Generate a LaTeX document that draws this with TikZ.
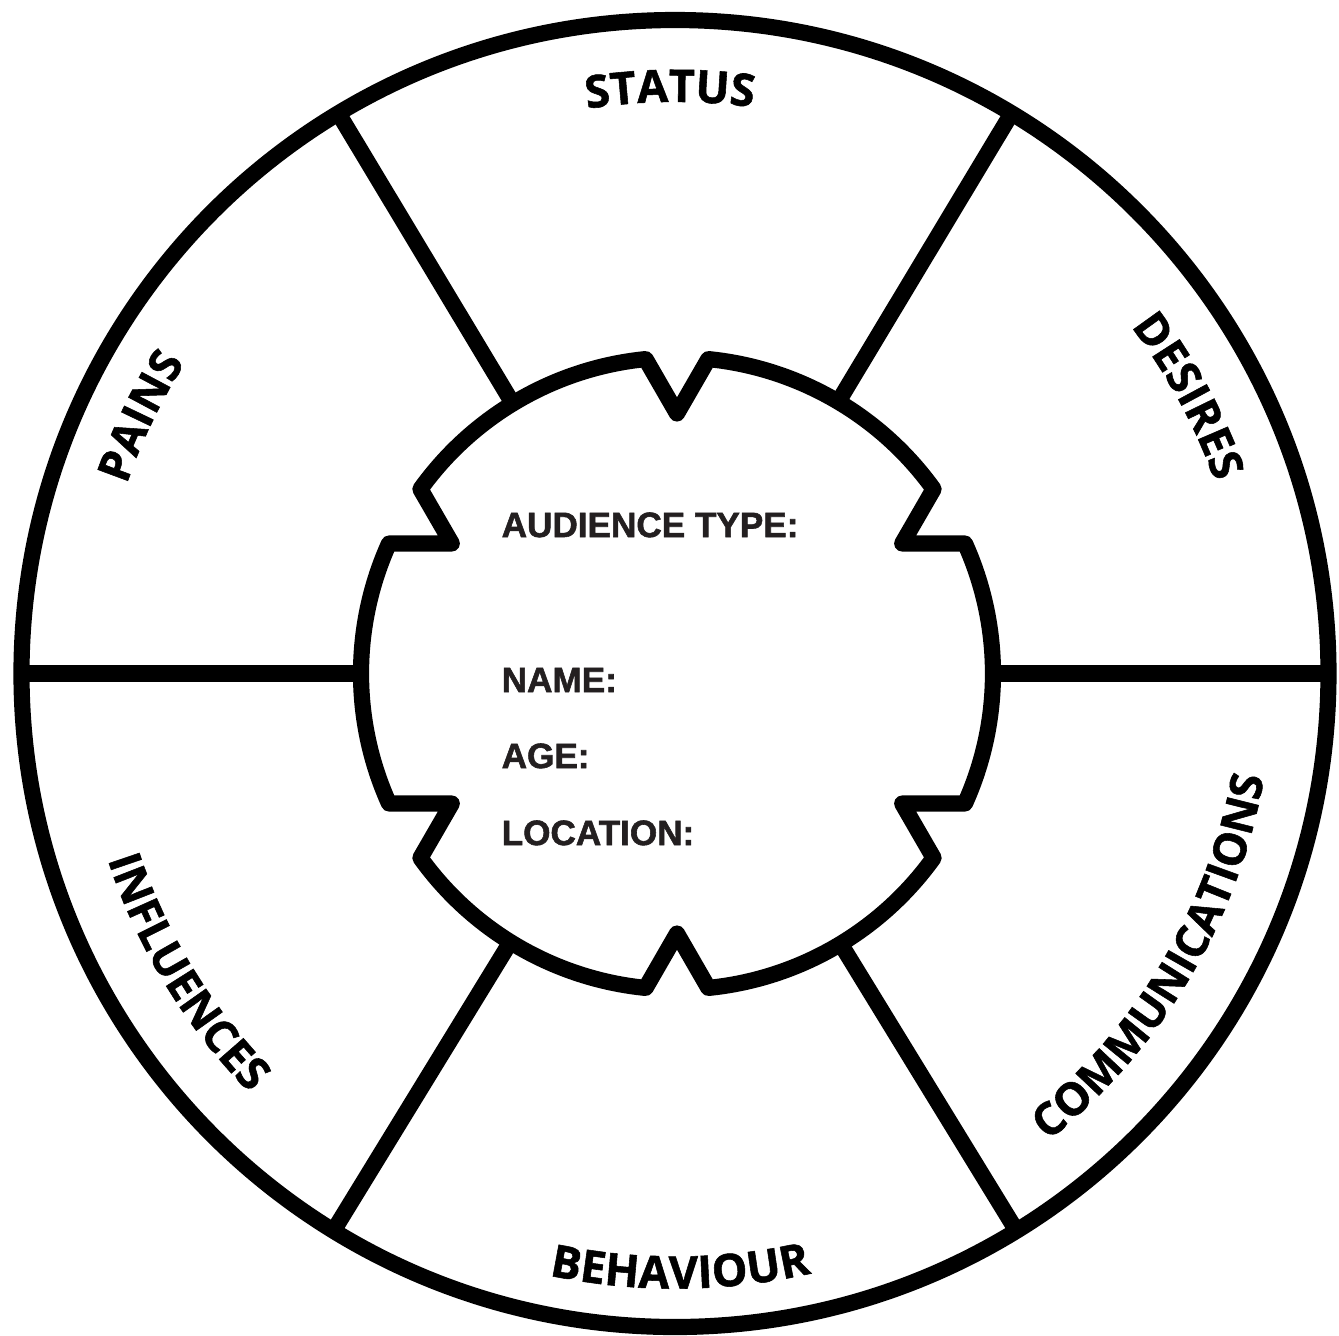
\documentclass[tikz,border=0pt]{standalone}
\usepackage{fontspec}
\newfontfamily\wheelfont{Open Sans}[BoldFeatures={FakeBold=1.2}]
\newfontfamily\formfont{Liberation Sans}[BoldFeatures={FakeBold=1.6}]
\usetikzlibrary{decorations.text}
\definecolor{formgray}{HTML}{231F20}

\begin{document}
\begin{tikzpicture}[
    rim/.style={line width=4.6pt, line join=round},
    spoke/.style={line width=4.6pt},
    field/.style={anchor=base west, inner sep=0pt, text=formgray, font=\formfont\bfseries\fontsize{10}{12}\selectfont},
  ]
  \useasboundingbox (-6.75,-6.615) rectangle (6.64,6.735);

  % outer ring
  \draw[rim] (0,0) circle (6.535);

  % inner notched disc
  \begin{scope}[shift={(0.02,0)}]
    \draw[rim] (35.7:3.16)
      \foreach \a in {90,150,210,270,330,390} {
        arc[start angle=\a-54.3, end angle=\a-5.7, radius=3.16]
        -- (\a:2.6) -- (\a+5.7:3.16)
      } -- cycle;
  \end{scope}

  % spokes
  \foreach \a in {0,59,121,180,238.5,301.5}
    \draw[spoke] (\a:3.16) -- (\a:6.535);

  % ring labels
  \path[decorate, decoration={text along path, text align=center,
      text={|\wheelfont\bfseries\fontsize{12.8}{15}\selectfont|STATUS}}]
    (150.5:5.715) arc[start angle=150.5, end angle=30.5, radius=5.715];
  \path[decorate, decoration={text along path, text align=center,
      text={|\wheelfont\bfseries\fontsize{12.8}{15}\selectfont|DESIRES}}]
    (88.4:5.73) arc[start angle=88.4, end angle=-31.6, radius=5.73];
  \path[decorate, decoration={text along path, text align=center,
      text={|\wheelfont\bfseries\fontsize{12.8}{15}\selectfont|PAINS}}]
    (214.3:5.8) arc[start angle=214.3, end angle=94.3, radius=5.8];
  \path[decorate, decoration={text along path, text align=center,
      text={|\wheelfont\bfseries\fontsize{12.8}{15}\selectfont|BEHAVIOUR}}]
    (210.5:6.15) arc[start angle=210.5, end angle=330.5, radius=6.15];
  \path[decorate, decoration={text along path, text align=center,
      text={|\wheelfont\bfseries\fontsize{12.8}{15}\selectfont|COMMUNICATIONS}}]
    (-90.7:5.98) arc[start angle=-90.7, end angle=29.3, radius=5.98];
  \path[decorate, decoration={text along path, text align=center,
      text={|\wheelfont\bfseries\fontsize{12.8}{15}\selectfont|INFLUENCES}}]
    (151.4:5.97) arc[start angle=151.4, end angle=271.4, radius=5.97];

  % form fields
  \node[field] (type)     at (-1.74,1.365)  {AUDIENCE TYPE:};
  \node[field] (name)     at (-1.74,-0.185) {NAME:};
  \node[field] (age)      at (-1.74,-0.945) {AGE:};
  \node[field] (location) at (-1.74,-1.715) {LOCATION:};
\end{tikzpicture}
\end{document}
